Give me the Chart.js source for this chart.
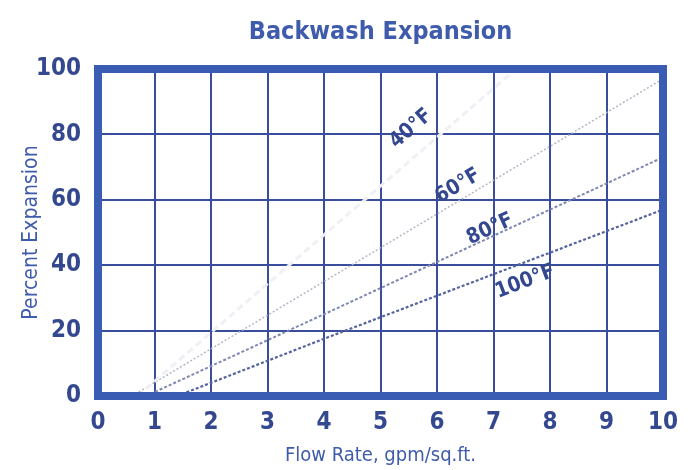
<!DOCTYPE html>
<html>
<head>
<meta charset="utf-8">
<title>Backwash Expansion</title>
<script src="https://cdn.jsdelivr.net/npm/chart.js@4.4.1/dist/chart.umd.min.js"></script>
<style>
  html, body { margin: 0; padding: 0; background: #fff; }
  #wrap { width: 694px; height: 470px; position: relative; }
</style>
</head>
<body>
<div id="wrap"><canvas id="expChart"></canvas></div>
<script>
// values
const seriesNames = ['40°F', '60°F', '80°F', '100°F'];
const flow40 = [0.7, 7.4];
const exp40 = [0, 100];
const flow60 = [0.6, 4, 10];
const exp60 = [0, 35, 97];
const flow80 = [0.85, 4, 10];
const exp80 = [0, 25, 73];
const flow100 = [1.4, 4, 10];
const exp100 = [0, 17.5, 57];
const xTicks = [0, 1, 2, 3, 4, 5, 6, 7, 8, 9, 10];
const yTicks = [0, 20, 40, 60, 80, 100];
// where the rotated series names sit (flow, percent)
const labelFlow = [5.54, 6.37, 6.94, 7.56];
const labelExp = [81.7, 64.2, 51, 34.9];

const NARROW = "'Liberation Sans Narrow', 'DejaVu Sans Condensed', sans-serif";
const BORDER_BLUE = '#3b5cb3';
const GRID_BLUE = '#3a4c9c';
const TEXT_BLUE = '#34488f';

function pts(xs, ys) {
  return xs.map((x, i) => ({ x: x, y: ys[i] }));
}

const lineStyles = [
  { color: '#eff0f5', width: 3, dash: [7, 4] },
  { color: '#b3b7c6', width: 1.5, dash: [2, 2] },
  { color: '#7f88b2', width: 2, dash: [3, 2] },
  { color: '#55649f', width: 2.2, dash: [3, 2] }
];
const allData = [pts(flow40, exp40), pts(flow60, exp60), pts(flow80, exp80), pts(flow100, exp100)];

// thick frame round the plot
const frame = {
  id: 'frame',
  afterDraw(chart) {
    const { ctx, chartArea: a } = chart;
    ctx.save();
    ctx.strokeStyle = BORDER_BLUE;
    ctx.lineWidth = 8;
    ctx.strokeRect(a.left, a.top, a.right - a.left, a.bottom - a.top);
    ctx.restore();
  }
};

// series names written along each line
const lineNames = {
  id: 'lineNames',
  afterDatasetsDraw(chart) {
    const { ctx, scales: { x, y } } = chart;
    ctx.save();
    ctx.fillStyle = TEXT_BLUE;
    ctx.font = 'bold 21px ' + NARROW;
    ctx.textAlign = 'center';
    ctx.textBaseline = 'middle';
    seriesNames.forEach((name, i) => {
      const d = allData[i];
      const p0 = d[0], p1 = d[d.length - 1];
      const ang = Math.atan2(y.getPixelForValue(p1.y) - y.getPixelForValue(p0.y),
                             x.getPixelForValue(p1.x) - x.getPixelForValue(p0.x));
      ctx.save();
      ctx.translate(x.getPixelForValue(labelFlow[i]), y.getPixelForValue(labelExp[i]));
      ctx.rotate(ang);
      ctx.fillText(name, 0, 0);
      ctx.restore();
    });
    ctx.restore();
  }
};

const ctx = document.getElementById('expChart').getContext('2d');
new Chart(ctx, {
  type: 'scatter',
  data: {
    datasets: seriesNames.map((name, i) => ({
      label: name,
      data: allData[i],
      showLine: true,
      borderColor: lineStyles[i].color,
      borderWidth: lineStyles[i].width,
      borderDash: lineStyles[i].dash,
      pointRadius: 0,
      tension: 0
    }))
  },
  options: {
    responsive: true,
    maintainAspectRatio: false,
    animation: false,
    layout: { padding: { left: 0, right: 31, top: 0, bottom: 0 } },
    plugins: {
      legend: { display: false },
      tooltip: { enabled: false },
      title: {
        display: true,
        text: 'Backwash Expansion',
        fullSize: false,
        color: '#3f5bab',
        font: { family: NARROW, size: 25, weight: 'bold', lineHeight: 1.2 },
        padding: { top: 17, bottom: 22 }
      }
    },
    scales: {
      x: {
        type: 'linear',
        min: 0,
        max: 10,
        afterBuildTicks: (s) => { s.ticks = xTicks.map(v => ({ value: v })); },
        afterFit: (s) => { s.height = 74; },
        grid: { color: GRID_BLUE, lineWidth: 2, drawTicks: false },
        border: { display: false },
        ticks: {
          color: TEXT_BLUE,
          padding: 12,
          font: { family: NARROW, size: 24, weight: 'bold' }
        },
        title: {
          display: true,
          text: 'Flow Rate, gpm/sq.ft.',
          color: '#3f5bab',
          font: { family: NARROW, size: 20 },
          padding: { top: 0, bottom: 2 }
        }
      },
      y: {
        type: 'linear',
        min: 0,
        max: 100,
        afterBuildTicks: (s) => { s.ticks = yTicks.map(v => ({ value: v })); },
        afterFit: (s) => { s.width = 98; },
        grid: { color: GRID_BLUE, lineWidth: 2, drawTicks: false },
        border: { display: false },
        ticks: {
          color: TEXT_BLUE,
          padding: 17,
          font: { family: NARROW, size: 24, weight: 'bold' }
        },
        title: {
          display: true,
          text: 'Percent Expansion',
          color: '#3f5bab',
          font: { family: NARROW, size: 21 },
          padding: { top: 19, bottom: 0 }
        }
      }
    }
  },
  plugins: [lineNames, frame]
});
</script>
</body>
</html>
